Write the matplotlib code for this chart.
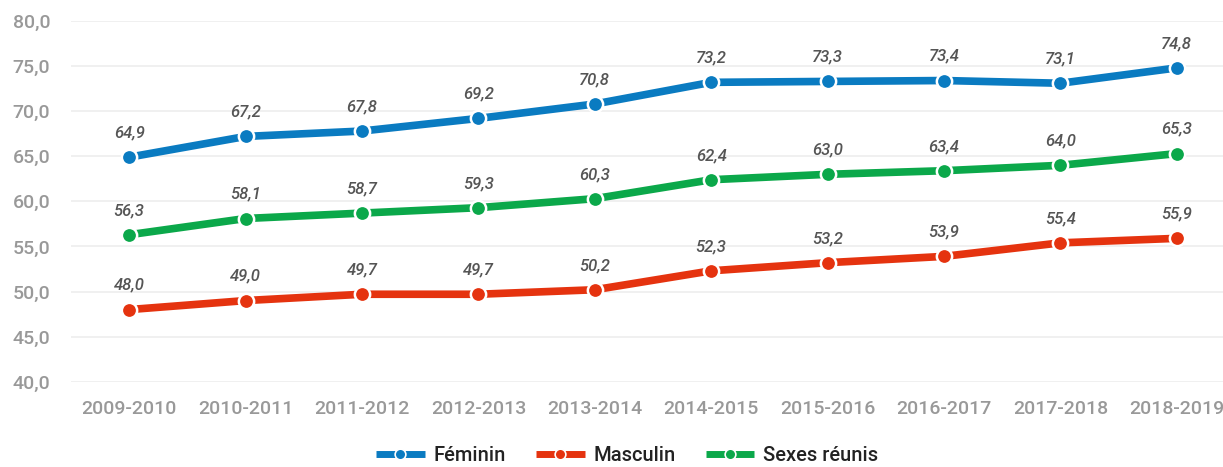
import matplotlib.pyplot as plt

plt.rcParams['font.family'] = ['Roboto', 'DejaVu Sans']

years = ["2009-2010", "2010-2011", "2011-2012", "2012-2013", "2013-2014",
         "2014-2015", "2015-2016", "2016-2017", "2017-2018", "2018-2019"]
feminin = [64.9, 67.2, 67.8, 69.2, 70.8, 73.2, 73.3, 73.4, 73.1, 74.8]
masculin = [48.0, 49.0, 49.7, 49.7, 50.2, 52.3, 53.2, 53.9, 55.4, 55.9]
reunis = [56.3, 58.1, 58.7, 59.3, 60.3, 62.4, 63.0, 63.4, 64.0, 65.3]

series = [("Féminin", feminin, "#0a7bc1"),
          ("Masculin", masculin, "#e5330f"),
          ("Sexes réunis", reunis, "#0ba84a")]

fig = plt.figure(figsize=(12.23, 4.67), dpi=100)
ax = fig.add_axes([71 / 1223, 0.1826, (1235 - 71) / 1223, 0.955 - 0.1826])

x = list(range(len(years)))
for name, vals, col in series:
    ax.plot(x, vals, color=col, lw=5.5, marker='o', markersize=11,
            markeredgecolor='white', markeredgewidth=1.8, label=name,
            solid_capstyle='butt', zorder=3)
    for xi, v in zip(x, vals):
        ax.annotate(("%.1f" % v).replace(".", ","), (xi, v), xytext=(0, 12),
                    textcoords='offset points', ha='center', va='bottom',
                    fontsize=12, style='italic', fontweight='medium',
                    color='#555555')

ax.set_xlim(-0.5, 9.5)
ax.set_ylim(40, 80)
ax.set_yticks(range(40, 81, 5))
ax.set_yticklabels([("%.1f" % v).replace(".", ",") for v in range(40, 81, 5)],
                   fontweight='medium')
ax.set_xticks(x)
ax.set_xticklabels(years, fontweight='medium')
ax.tick_params(axis='both', length=0, labelcolor='#999999')
ax.tick_params(axis='x', pad=13, labelsize=14)
ax.tick_params(axis='y', pad=15, labelsize=14)
for s in ax.spines.values():
    s.set_visible(False)
ax.grid(axis='y', color='#eeeeee', lw=1.2)
ax.set_axisbelow(True)

leg = fig.legend(loc='lower center', bbox_to_anchor=(0.513, -0.035), ncol=3,
                 frameon=False, prop={'size': 14.5, 'weight': 'medium'},
                 handlelength=2.4, columnspacing=1.5, handletextpad=0.45,
                 markerscale=0.7)
for t in leg.get_texts():
    t.set_color('#222222')
for h in leg.legend_handles:
    h.set_linewidth(5)
    h.set_markeredgewidth(1.2)

fig.savefig("out.png", dpi=100)
